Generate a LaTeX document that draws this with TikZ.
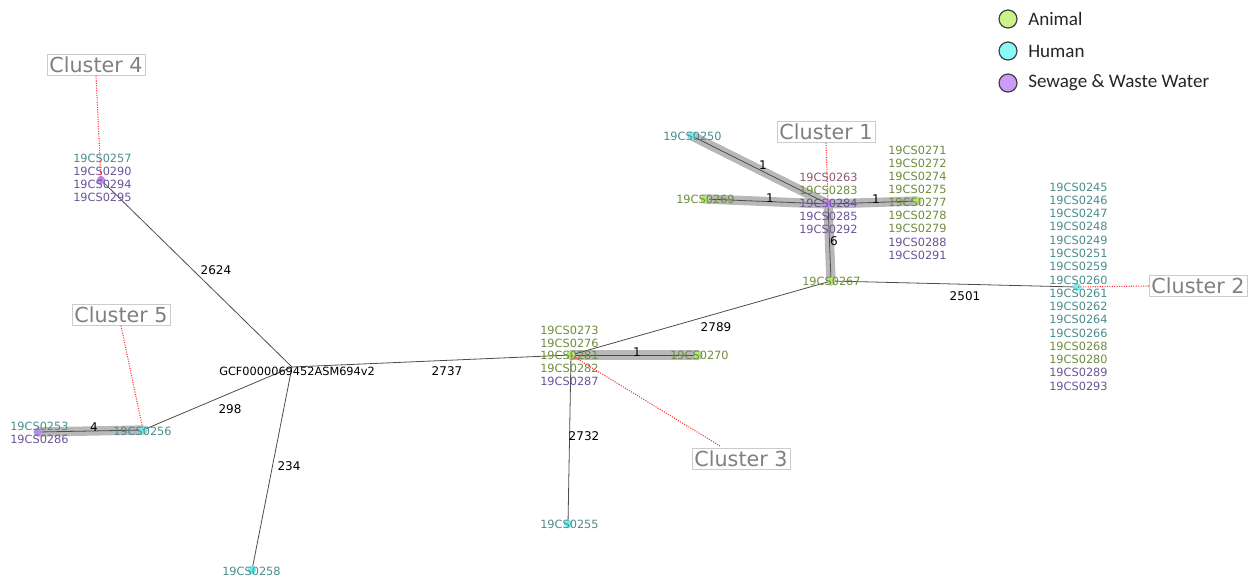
\documentclass[tikz,border=0pt]{standalone}
\usepackage{fontspec}
\setmainfont{DejaVu Sans}
\newfontfamily\legfont{Carlito}
\definecolor{tteal}{HTML}{4A8C8C}
\definecolor{tgreen}{HTML}{6E8C3C}
\definecolor{tpurple}{HTML}{6A5396}
\definecolor{tmauve}{HTML}{8C5A6E}
\definecolor{ngreen}{HTML}{B5E878}
\definecolor{ncyan}{HTML}{6FF0F0}
\definecolor{npurple}{HTML}{B98AF0}
\definecolor{lgreen}{HTML}{CCF28A}
\definecolor{lcyan}{HTML}{88FAFA}
\definecolor{lpurple}{HTML}{C99CFA}
\begin{document}
\begin{tikzpicture}[x=0.75pt,y=-0.75pt,
  dot/.style={circle,inner sep=0pt,minimum size=6pt},
  gdot/.style={dot,fill=ngreen},
  cdot/.style={dot,fill=ncyan},
  pdot/.style={dot,fill=npurple},
  lbl/.style={font=\fontsize{8.5}{10}\selectfont,anchor=west,inner sep=0pt},
  lt/.style={lbl,text=tteal},
  lg/.style={lbl,text=tgreen},
  lp/.style={lbl,text=tpurple},
  lm/.style={lbl,text=tmauve},
  edge/.style={draw=black!70,line width=0.6pt},
  hl/.style={draw=black!28,line width=7pt,line cap=round},
  elbl/.style={font=\fontsize{9}{10}\selectfont,inner sep=0pt,text=black},
  cbox/.style={draw=black!20,text=black!50,font=\fontsize{15.5}{17}\selectfont,inner sep=1.8pt,fill=white},
  cline/.style={draw=red!80,densely dotted,line width=0.8pt},
  legc/.style={circle,draw=black!75,line width=0.9pt,minimum size=13.5pt,inner sep=0pt},
  legt/.style={font=\legfont\fontsize{14.3}{16}\selectfont,anchor=west,text=black!85,inner sep=0pt}
]
\useasboundingbox (0,0) rectangle (1255,579);
% positions
\coordinate (root) at (292,367);
\node[pdot] (c4) at (101,180) {};
\node[cdot] (n256) at (143,430) {};
\node[pdot] (n286) at (38,432) {};
\node[cdot] (n258) at (252,570) {};
\node[gdot] (c3) at (571,355) {};
\node[gdot] (n270) at (698,355) {};
\node[cdot] (n255) at (568,524) {};
\node[gdot] (n267) at (831,281) {};
\node[pdot] (c1) at (828,204) {};
\node[cdot] (n250) at (692,136) {};
\node[gdot] (n269) at (705,199) {};
\node[gdot] (n277) at (917,201) {};
\node[cdot] (c2) at (1077,287) {};
% highlights
\draw[hl] (n286.center) -- (n256.center);
\draw[hl] (c3.center) -- (n270.center);
\draw[hl] (n250.center) -- (c1.center);
\draw[hl] (n269.center) -- (c1.center);
\draw[hl] (c1.center) -- (n277.center);
\draw[hl] (c1.center) -- (n267.center);
% edges
\draw[edge] (root) -- (c4.center);
\draw[edge] (root) -- (n256.center);
\draw[edge] (root) -- (n258.center);
\draw[edge] (root) -- (c3.center);
\draw[edge] (n286.center) -- (n256.center);
\draw[edge] (c3.center) -- (n270.center);
\draw[edge] (c3.center) -- (n255.center);
\draw[edge] (c3.center) -- (n267.center);
\draw[edge] (n267.center) -- (c1.center);
\draw[edge] (n250.center) -- (c1.center);
\draw[edge] (n269.center) -- (c1.center);
\draw[edge] (c1.center) -- (n277.center);
\draw[edge] (n267.center) -- (c2.center);
% redraw dots on top
\node[pdot] at (c4) {};
\node[cdot] at (n256) {};
\node[pdot] at (n286) {};
\node[cdot] at (n258) {};
\node[gdot] at (c3) {};
\node[gdot] at (n270) {};
\node[cdot] at (n255) {};
\node[gdot] at (n267) {};
\node[pdot] at (c1) {};
\node[cdot] at (n250) {};
\node[gdot] at (n269) {};
\node[gdot] at (n277) {};
\node[cdot] at (c2) {};
% edge labels
\node[elbl] (e1) at (216,270) {2624};
\node[elbl] (e2) at (230,409) {298};
\node[elbl] (e3) at (289,466) {234};
\node[elbl] (e4) at (94,427) {4};
\node[elbl] (e5) at (447,371) {2737};
\node[elbl] (e6) at (584,436) {2732};
\node[elbl] (e7) at (637,352) {1};
\node[elbl] (e8) at (716,327) {2789};
\node[elbl] (e9) at (763,165) {1};
\node[elbl] (e10) at (770,198) {1};
\node[elbl] (e11) at (876,199) {1};
\node[elbl] (e12) at (834,241) {6};
\node[elbl] (e13) at (965,296) {2501};
% root label
\node[lbl,text=black] (rootl) at (219,371) {GCF0000069452ASM694v2};
% cluster 4 labels
\node[lt] (a1) at (73,158) {19CS0257};
\node[lp] (a2) at (73,171) {19CS0290};
\node[lp] (a3) at (73,184) {19CS0294};
\node[lp] (a4) at (73,197) {19CS0295};
% cluster 5
\node[lt] (b1) at (113,431) {19CS0256};
\node[lt] (b2) at (10,426) {19CS0253};
\node[lp] (b3) at (10,439) {19CS0286};
\node[lt] (b4) at (222,571) {19CS0258};
% cluster 3
\node[lg] (d1) at (540,330) {19CS0273};
\node[lg] (d2) at (540,343) {19CS0276};
\node[lg] (d3) at (540,355) {19CS0281};
\node[lg] (d4) at (540,368) {19CS0282};
\node[lp] (d5) at (540,381) {19CS0287};
\node[lg] (d6) at (670,355) {19CS0270};
\node[lt] (d7) at (540,524) {19CS0255};
\node[lg] (d8) at (802,281) {19CS0267};
% cluster 1
\node[lt] (f1) at (663,136) {19CS0250};
\node[lg] (f2) at (676,199) {19CS0269};
\node[lm] (f3) at (799,177) {19CS0263};
\node[lg] (f4) at (799,190) {19CS0283};
\node[lp] (f5) at (799,203) {19CS0284};
\node[lp] (f6) at (799,216) {19CS0285};
\node[lp] (f7) at (799,229) {19CS0292};
\node[lg] (g1) at (888,150) {19CS0271};
\node[lg] (g2) at (888,163) {19CS0272};
\node[lg] (g3) at (888,176) {19CS0274};
\node[lg] (g4) at (888,189) {19CS0275};
\node[lg] (g5) at (888,202) {19CS0277};
\node[lg] (g6) at (888,215) {19CS0278};
\node[lg] (g7) at (888,228) {19CS0279};
\node[lp] (g8) at (888,242) {19CS0288};
\node[lp] (g9) at (888,255) {19CS0291};
% cluster 2
\node[lt] (h1) at (1049,187) {19CS0245};
\node[lt] (h2) at (1049,200.3) {19CS0246};
\node[lt] (h3) at (1049,213.5) {19CS0247};
\node[lt] (h4) at (1049,226.8) {19CS0248};
\node[lt] (h5) at (1049,240.1) {19CS0249};
\node[lt] (h6) at (1049,253.4) {19CS0251};
\node[lt] (h7) at (1049,266.6) {19CS0259};
\node[lt] (h8) at (1049,279.9) {19CS0260};
\node[lt] (h9) at (1049,293.2) {19CS0261};
\node[lt] (h10) at (1049,306.4) {19CS0262};
\node[lt] (h11) at (1049,319.7) {19CS0264};
\node[lt] (h12) at (1049,333) {19CS0266};
\node[lg] (h13) at (1049,346.3) {19CS0268};
\node[lg] (h14) at (1049,359.5) {19CS0280};
\node[lp] (h15) at (1049,372.8) {19CS0289};
\node[lp] (h16) at (1049,386) {19CS0293};
% cluster boxes
\node[cbox] (k4) at (96,65) {Cluster 4};
\node[cbox] (k5) at (121,315) {Cluster 5};
\node[cbox] (k3) at (741,459) {Cluster 3};
\node[cbox] (k1) at (826,132) {Cluster 1};
\node[cbox] (k2) at (1198,286) {Cluster 2};
\coordinate (k3a) at (720,446);
\draw[cline] (k4.south) -- (c4.center);
\draw[cline] (k5.south) -- (n256.center);
\draw[cline] (k3a) -- (c3.center);
\draw[cline] (k1.south) -- (c1.center);
\draw[cline] (k2.west) -- (c2.center);
% legend
\node[legc,fill=lgreen] (la) at (1008,19) {};
\node[legc,fill=lcyan] (lh) at (1008,51) {};
\node[legc,fill=lpurple] (ls) at (1008,83) {};
\node[legt] (lta) at (1028,19) {Animal};
\node[legt] (lth) at (1028,51) {Human};
\node[legt] (lts) at (1028,83) {Sewage \& Waste Water};
\end{tikzpicture}
\end{document}
